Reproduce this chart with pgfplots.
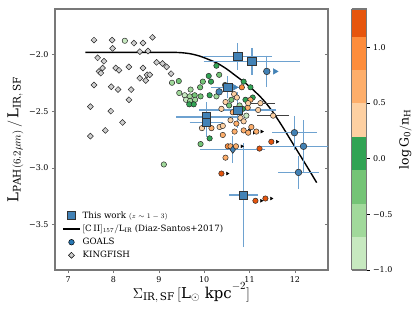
\documentclass[border=0pt]{standalone}
\usepackage{fontspec}
\setmainfont{DejaVu Serif}
\usepackage{pgfplots}
\pgfplotsset{compat=1.18}
\definecolor{sqblue}{RGB}{66,130,182}
\definecolor{ebblue}{RGB}{110,162,208}
\definecolor{tabblue}{RGB}{40,120,180}
\definecolor{kgray}{RGB}{206,206,206}
\definecolor{spine}{RGB}{120,120,120}
\begin{document}
\begin{tikzpicture}
\begin{axis}[
  scale only axis, width=273bp, height=261bp,
  xmin=6.71, xmax=12.73, ymin=-3.90, ymax=-1.60,
  xtick={7,8,9,10,11,12},
  ytick={-3.5,-3,-2.5,-2}, yticklabels={−3.5,−3.0,−2.5,−2.0},
  xtick pos=bottom, ytick pos=left,
  tick align=outside, major tick length=3bp,
  tick style={spine, line width=0.6pt},
  axis line style={spine, line width=1.1pt},
  /pgf/number format/assume math mode=true,
  tick label style={font=\fontsize{8}{9}\selectfont},
  xlabel={$\Sigma_{\mathrm{IR,\,SF}}\,[\mathrm{L}_\odot\ \mathrm{kpc}^{-2}]$},
  ylabel={$\mathrm{L}_{\mathrm{PAH}(6.2\mu m)}\,/\,\mathrm{L}_{\mathrm{IR,\,SF}}$},
  label style={font=\fontsize{15}{17}\selectfont},
  xlabel style={yshift=7bp},
  ylabel style={yshift=-1bp},
  colormap={g0}{rgb255(0pt)=(199,233,192) rgb255(3pt)=(161,217,155) rgb255(6pt)=(116,196,118) rgb255(9pt)=(49,163,84) rgb255(12pt)=(253,208,162) rgb255(15pt)=(253,174,107) rgb255(18pt)=(253,141,60) rgb255(21pt)=(230,85,13) rgb255(23.44pt)=(230,85,13)},
  colormap access=piecewise constant,
  point meta min=-1, point meta max=1.344,
  colorbar,
  colorbar style={
    width=15bp,
    at={(parent axis.north east)}, anchor=north west, xshift=15bp,
    ytick={-1,-0.5,0,0.5,1},
    yticklabels={−1.0,−0.5,0.0,0.5,1.0},
    yticklabel pos=right, ytick pos=right,
    tick align=outside, major tick length=3bp,
    tick style={black, line width=0.6pt},
    yticklabel style={font=\fontsize{8}{9}\selectfont},
    axis line style={spine, line width=1.1pt},
    ylabel={$\log\mathrm{G_0/n_H}$},
    ylabel style={font=\fontsize{12.5}{14}\selectfont},
  },
  legend style={at={(0.015,0.025)}, anchor=south west, draw=none, fill=none,
    font=\fontsize{8.7}{10}\selectfont, row sep=1.2bp},
  legend cell align=left,
]
% legend images
\addlegendimage{only marks, mark=square*, mark size=3.9bp, mark options={fill=sqblue, draw=black!80, line width=0.6pt}}
\addlegendentry{This work {\fontsize{7.5}{8}\selectfont$(z\sim1-3)$}}
\addlegendimage{black, line width=1.4pt, no markers}
\addlegendentry{$[\mathrm{C\,II}]_{157}/\mathrm{L}_{\mathrm{IR}}$ (Diaz-Santos+2017)}
\addlegendimage{only marks, mark=*, mark size=2.8bp, mark options={fill=tabblue, draw=black, line width=0.5pt}}
\addlegendentry{GOALS}
\addlegendimage{only marks, mark=square*, mark size=2.1bp, mark options={rotate=45, fill=kgray, draw=black, line width=0.5pt}}
\addlegendentry{KINGFISH}

% KINGFISH
\addplot[forget plot, only marks, mark=square*, mark size=2.1bp, mark options={rotate=45, fill=kgray, draw=black!85, line width=0.5pt}] table {
x y
7.57 -1.874
7.97 -1.874
7.98 -1.947
8.45 -1.90
8.65 -1.90
8.86 -1.85
8.58 -1.976
8.76 -1.97
7.65 -2.03
7.79 -2.06
8.95 -2.07
9.08 -2.08
9.17 -2.11
9.27 -2.17
7.76 -2.12
7.68 -2.15
7.72 -2.165
8.05 -2.12
8.12 -2.14
8.34 -2.11
8.65 -2.12
8.74 -2.18
8.58 -2.21
8.71 -2.23
8.80 -2.18
7.57 -2.27
7.95 -2.285
8.10 -2.31
8.39 -2.31
8.34 -2.40
7.49 -2.46
7.94 -2.50
8.20 -2.60
7.82 -2.67
7.49 -2.72
};

% Diaz-Santos curve
\addplot[forget plot, black, line width=1.4pt, smooth] table {
x y
7.38 -1.982
8.00 -1.982
8.50 -1.982
9.00 -1.982
9.30 -1.982
9.50 -1.985
9.70 -1.995
9.90 -2.015
10.10 -2.045
10.30 -2.080
10.50 -2.130
10.70 -2.190
10.90 -2.250
11.10 -2.320
11.30 -2.400
11.50 -2.500
11.70 -2.620
11.90 -2.750
12.10 -2.880
12.30 -3.010
12.48 -3.130
};

% GOALS black error bars (two sources)
\addplot[forget plot, scatter, only marks, mark=*, mark size=2.7bp, point meta=explicit,
  scatter/use mapped color={draw=black!85, fill=mapped color}, mark options={line width=0.5pt},
  error bars/.cd, x dir=both, x explicit, error bar style={black!75, line width=0.6pt},
  error mark options={black!75, line width=0.6pt, mark size=2bp}]
  table[x=x, y=y, x error=ex, meta=m] {
x y ex m
11.24 -2.43 0.28 0.35
11.52 -2.54 0.31 0.35
};

% GOALS lower-limit arrows
\addplot[forget plot, only marks, mark=triangle*, mark size=1.7bp, mark options={rotate=-90, fill=black, draw=black}] table {
x y
10.99 -2.67
11.27 -2.68
10.51 -3.05
11.61 -2.77
11.26 -3.29
11.48 -3.27
10.83 -2.81
11.10 -2.69
};

% GOALS
\addplot[forget plot, scatter, only marks, mark=*, mark size=2.7bp, point meta=explicit,
  scatter/use mapped color={draw=black!85, fill=mapped color}, mark options={line width=0.5pt}]
  table[x=x, y=y, meta=m] {
x y m
8.25 -1.88 -0.85
10.27 -2.10 0.05
10.10 -2.19 0.05
10.33 -2.18 -0.25
9.97 -2.24 -0.25
10.15 -2.24 0.05
9.29 -2.25 -0.55
9.44 -2.235 -0.25
9.91 -2.29 -0.25
9.70 -2.31 -0.55
9.45 -2.34 -0.55
9.57 -2.36 -0.85
9.68 -2.37 -0.55
9.79 -2.36 -0.25
9.92 -2.37 -0.25
10.12 -2.36 0.05
9.60 -2.40 -0.85
9.69 -2.41 -0.55
9.80 -2.40 -0.55
9.67 -2.44 0.05
9.77 -2.44 0.05
10.27 -2.37 -0.55
10.46 -2.27 -0.25
10.87 -2.24 0.05
11.02 -2.29 0.05
10.91 -2.40 0.05
11.07 -2.38 0.05
10.93 -2.54 -0.85
9.92 -2.79 -0.25
10.12 -2.74 0.05
9.11 -2.97 -0.55
10.83 -2.29 0.95
10.66 -2.35 0.35
10.47 -2.42 0.35
10.38 -2.48 0.35
10.63 -2.51 0.65
10.58 -2.58 0.35
10.71 -2.61 0.65
10.80 -2.56 0.35
10.87 -2.59 0.35
10.96 -2.47 0.65
11.02 -2.40 0.65
10.97 -2.43 0.35
11.19 -2.49 0.35
9.95 -2.65 0.35
10.16 -2.65 0.65
10.34 -2.64 0.35
10.41 -2.63 0.35
10.41 -2.71 0.65
10.67 -2.68 0.65
10.87 -2.67 0.65
11.04 -2.64 0.65
10.97 -2.69 0.65
11.15 -2.68 0.65
10.52 -2.81 0.95
10.58 -2.81 0.65
10.70 -2.81 0.65
10.47 -2.91 0.65
10.38 -3.05 1.25
11.22 -2.83 1.25
11.48 -2.77 1.25
11.13 -3.29 1.25
11.35 -3.27 1.25
10.78 -2.45 -0.55
10.85 -2.48 0.05
10.55 -2.45 -0.25
10.72 -2.38 0.35
10.60 -2.40 -0.25
};

% blue lower-limit arrows
\addplot[forget plot, only marks, mark=triangle*, mark size=3.2bp, mark options={rotate=-90, fill=sqblue, draw=sqblue}] table {
x y
10.68 -2.29
11.56 -2.15
};

% blue circles with error bars
\addplot[forget plot, only marks, mark=*, mark size=3.3bp, mark options={fill=sqblue, draw=black!80, line width=0.6pt},
  error bars/.cd, x dir=both, x explicit, y dir=both, y explicit,
  error bar style={ebblue, line width=1.4pt},
  error mark options={ebblue, line width=1.4pt, mark size=3.2bp}]
  table[x=x, y=y, x error=ex, y error=ey] {
x y ex ey
11.38 -2.15 0 0.11
10.33 -2.33 0 0
11.99 -2.69 0.42 0.12
12.19 -2.81 0.85 0.20
12.08 -3.04 0.38 0.115
};

% blue diamond
\addplot[forget plot, only marks, mark=diamond*, mark size=3.6bp, mark options={fill=sqblue, draw=black!80, line width=0.6pt},
  error bars/.cd, x dir=both, x explicit, y dir=both, y explicit,
  error bar style={ebblue, line width=1.4pt},
  error mark options={ebblue, line width=1.4pt, mark size=3.2bp}]
  table[x=x, y=y, x error=ex, y error=ey] {
x y ex ey
10.63 -2.84 0.65 0.09
};

% This work squares
\addplot[forget plot, only marks, mark=square*, mark size=4.1bp, mark options={fill=sqblue, draw=black!80, line width=0.6pt},
  error bars/.cd, x dir=both, x explicit, y dir=both, y explicit,
  error bar style={ebblue, line width=1.4pt},
  error mark options={ebblue, line width=1.4pt, mark size=3.2bp}]
  table[x=x, y=y, x error=ex, y error=ey] {
x y ex ey
10.74 -2.02 0.69 0.09
11.05 -2.06 0.99 0.09
10.52 -2.29 0.30 0.07
10.74 -2.49 0.78 0.13
10.05 -2.55 0.60 0.10
10.05 -2.60 0.30 0.10
10.87 -3.24 0.25 0.43
};
\end{axis}
% right-hand ticks pointing inward
\begin{axis}[
  scale only axis, width=273bp, height=261bp,
  xmin=6.71, xmax=12.73, ymin=-3.90, ymax=-1.60,
  axis x line=none, axis y line*=right,
  axis line style={draw=none},
  ytick={-3.5,-3,-2.5,-2}, yticklabels={},
  tick align=inside, major tick length=3bp,
  tick style={spine, line width=0.6pt},
]
\addplot[draw=none, forget plot] coordinates {(7,-2)};
\end{axis}
\pgfresetboundingbox
\path[use as bounding box] (-55bp,-45bp) rectangle (361bp,270bp);
\end{tikzpicture}
\end{document}
